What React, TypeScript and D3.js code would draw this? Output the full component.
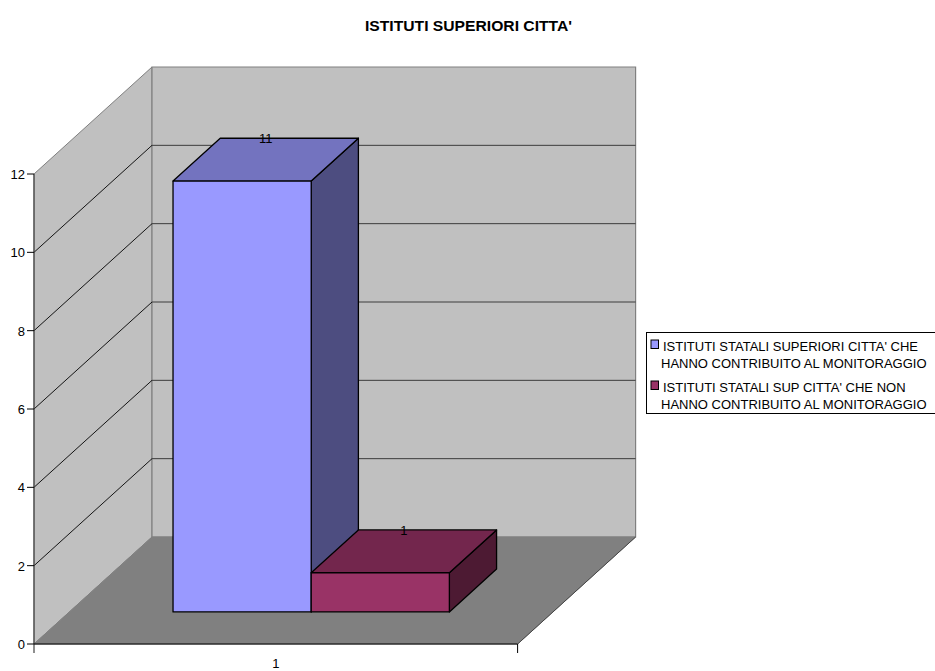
import React, { useRef, useEffect } from 'react';
import * as d3 from 'd3';

const chartTitle = "ISTITUTI SUPERIORI CITTA'";
const categoryLabels = ['1'];
const seriesNames = ['s1', 's2'];
const seriesValues = [11, 1];
const seriesFront = ['#9999ff', '#993366'];
const seriesTop = ['#7373bf', '#73264d'];
const seriesSide = ['#4d4d80', '#4d1a33'];
const yTicks = [0, 2, 4, 6, 8, 10, 12];
const legendLines = [
  ["ISTITUTI STATALI SUPERIORI CITTA' CHE", 'HANNO CONTRIBUITO AL MONITORAGGIO'],
  ["ISTITUTI STATALI SUP CITTA' CHE NON", 'HANNO CONTRIBUITO AL MONITORAGGIO'],
];

const FONT = '"Liberation Sans", Arial, sans-serif';

const App = () => {
  const svgRef = useRef<SVGSVGElement>(null);

  useEffect(() => {
    const svg = d3.select(svgRef.current);
    svg.selectAll('*').remove();

    const y = d3.scaleLinear().domain([0, 12]).range([644, 174]);
    const x = d3.scaleBand().domain(seriesNames).range([34, 517.6]).paddingInner(0).paddingOuter(0.75);
    // depth 0 = front edge of the floor, 1 = back wall
    const depthX = d3.scaleLinear().domain([0, 1]).range([0, 118]);
    const depthY = d3.scaleLinear().domain([0, 1]).range([0, -107]);

    const pt = (px: number, value: number, depth: number): [number, number] => [
      px + depthX(depth),
      y(value) + depthY(depth),
    ];
    const poly = (pts: [number, number][]) => d3.line()(pts) + 'Z';

    const label = (tx: number, ty: number, s: string | number, anchor = 'start') =>
      svg.append('text').attr('x', tx).attr('y', ty)
        .attr('text-anchor', anchor).attr('font-family', FONT).attr('font-size', 13)
        .attr('fill', '#000').text(s);

    const x0 = 34;
    const x1 = 517.6;
    const top = yTicks[yTicks.length - 1];

    // walls and floor
    svg.append('path')
      .attr('d', poly([pt(x0, 0, 0), pt(x0, top, 0), pt(x0, top, 1), pt(x0, 0, 1)]))
      .attr('fill', '#c0c0c0').attr('stroke', '#808080').attr('stroke-width', 1);
    svg.append('path')
      .attr('d', poly([pt(x0, 0, 1), pt(x0, top, 1), pt(x1, top, 1), pt(x1, 0, 1)]))
      .attr('fill', '#c0c0c0').attr('stroke', '#808080').attr('stroke-width', 1.2);
    svg.append('path')
      .attr('d', poly([pt(x0, 0, 0), pt(x0, 0, 1), pt(x1, 0, 1), pt(x1, 0, 0)]))
      .attr('fill', '#808080').attr('stroke', '#808080').attr('stroke-width', 1);

    // gridlines
    yTicks.filter(t => t > 0 && t < top).forEach(t => {
      svg.append('path').attr('d', d3.line()([pt(x0, t, 0), pt(x0, t, 1)]))
        .attr('stroke', '#000').attr('stroke-width', 0.9).attr('fill', 'none');
      svg.append('path').attr('d', d3.line()([pt(x0, t, 1), pt(x1, t, 1)]))
        .attr('stroke', '#3c3c3c').attr('stroke-width', 1).attr('fill', 'none');
    });

    // floor front edge right diagonal
    svg.append('path').attr('d', d3.line()([pt(x1, 0, 0), pt(x1, 0, 1)]))
      .attr('stroke', '#333').attr('stroke-width', 0.8).attr('fill', 'none');

    // axes
    svg.append('line').attr('x1', x0).attr('x2', x0).attr('y1', y(top)).attr('y2', 653)
      .attr('stroke', '#444').attr('stroke-width', 1.2);
    svg.append('line').attr('x1', x0).attr('x2', x1).attr('y1', y(0)).attr('y2', y(0))
      .attr('stroke', '#000').attr('stroke-width', 1);
    svg.append('line').attr('x1', x1).attr('x2', x1).attr('y1', y(0)).attr('y2', 653)
      .attr('stroke', '#000').attr('stroke-width', 1);

    yTicks.forEach(t => {
      svg.append('line').attr('x1', 27).attr('x2', x0).attr('y1', y(t)).attr('y2', y(t))
        .attr('stroke', '#000').attr('stroke-width', 1);
      label(25, y(t) + 5, t, 'end');
    });
    label((x0 + x1) / 2, 668, categoryLabels[0], 'middle');

    // bars, depth 0.3 to 0.7 of the floor
    const d0 = 0.3;
    const d1 = 0.7;
    seriesNames.forEach((name, i) => {
      const l = x(name) as number;
      const r = l + x.bandwidth();
      const v = seriesValues[i];
      const g = svg.append('g').attr('stroke', '#000').attr('stroke-width', 1.3).attr('stroke-linejoin', 'round');
      g.append('path').attr('fill', seriesSide[i])
        .attr('d', poly([pt(r, 0, d0), pt(r, v, d0), pt(r, v, d1), pt(r, 0, d1)]));
      g.append('path').attr('fill', seriesTop[i])
        .attr('d', poly([pt(l, v, d0), pt(l, v, d1), pt(r, v, d1), pt(r, v, d0)]));
      g.append('path').attr('fill', seriesFront[i])
        .attr('d', poly([pt(l, 0, d0), pt(l, v, d0), pt(r, v, d0), pt(r, 0, d0)]));
    });

    // value labels sit on the back edge of each top face
    seriesNames.forEach((name, i) => {
      const l = x(name) as number;
      const [lx] = pt(l + x.bandwidth() / 2, seriesValues[i], 0.5);
      const [, by] = pt(l, seriesValues[i], d1);
      label(lx, by + 5, seriesValues[i], 'middle');
    });

    svg.append('text').attr('x', 468.5).attr('y', 31)
      .attr('text-anchor', 'middle').attr('font-family', FONT).attr('font-size', 15)
      .attr('font-weight', 'bold').attr('textLength', 207).attr('lengthAdjust', 'spacingAndGlyphs')
      .text(chartTitle);

    // legend box runs off the right edge of the picture
    svg.append('rect').attr('x', 646.5).attr('y', 332.5).attr('width', 300).attr('height', 81)
      .attr('fill', '#fff').attr('stroke', '#000').attr('stroke-width', 1);
    const rowTop = [340, 381];
    legendLines.forEach((lines, i) => {
      svg.append('rect').attr('x', 651).attr('y', rowTop[i]).attr('width', 7.5).attr('height', 8.5)
        .attr('fill', seriesFront[i]).attr('stroke', '#000').attr('stroke-width', 1);
      lines.forEach((s, j) => {
        label(j === 0 ? 663 : 661, rowTop[i] + 10.5 + j * 17, s);
      });
    });
  }, []);

  return <svg ref={svgRef} width={935} height={671} style={{ position: 'absolute', left: 0, top: 0 }} />;
};

export default App;
